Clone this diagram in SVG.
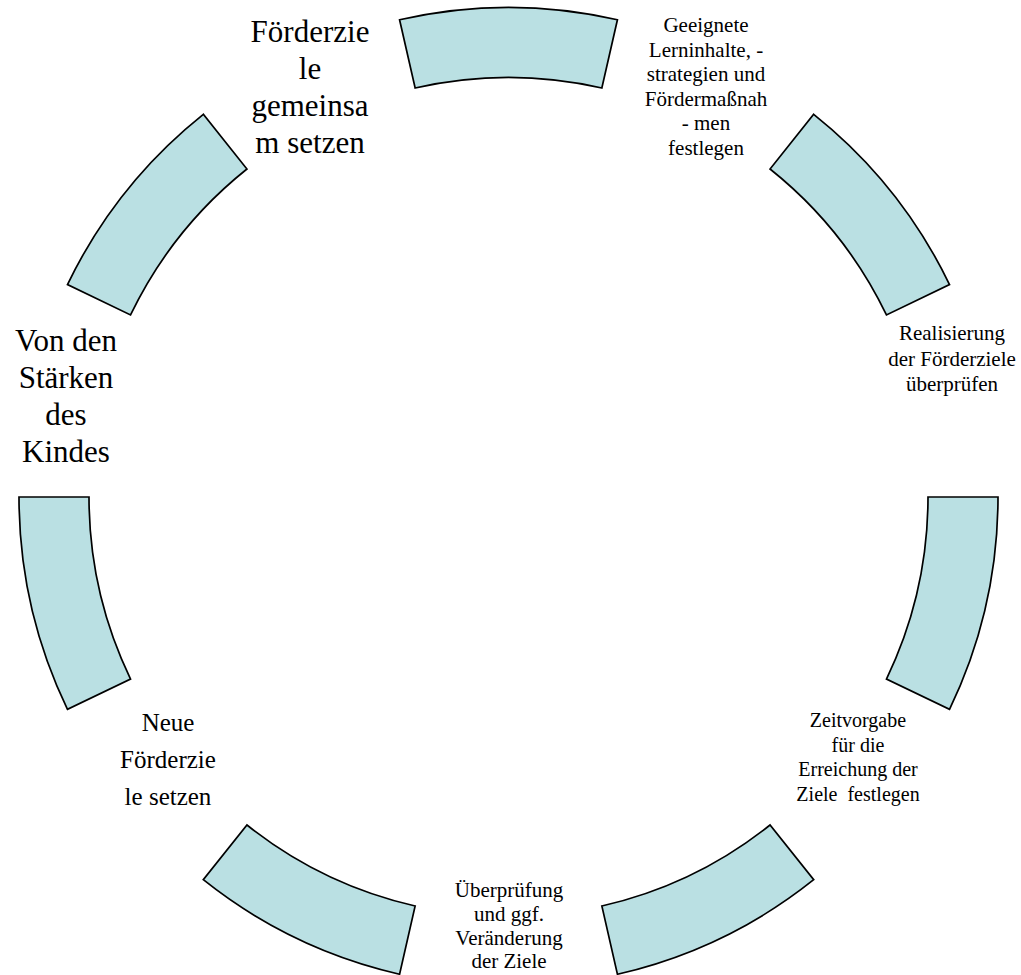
<svg xmlns="http://www.w3.org/2000/svg" width="1021" height="975" viewBox="0 0 1021 975">
  <style>
    .seg { fill: #BAE0E3; stroke: #000000; stroke-width: 1.7; stroke-linejoin: miter; }
    text { font-family: 'Liberation Serif', 'DejaVu Serif', 'Times New Roman', serif; fill: #000000; text-anchor: middle; }
    .big { font-size: 31px; }
    .mid { font-size: 25px; }
    .sm { font-size: 21px; }
    .xs { font-size: 20px; }
  </style>
  <rect x="0" y="0" width="1021" height="975" fill="#FFFFFF"/>
  <g id="connectors">
    <path class="seg" d="M 998,497 A 489.5 489.5 0 0 1 949.52,709.39 L 886.46,679.01 A 419.5 419.5 0 0 0 928,497 Z"/>
    <path class="seg" d="M 813.70,114.29 A 489.5 489.5 0 0 1 949.52,284.61 L 886.46,314.99 A 419.5 419.5 0 0 0 770.05,169.02 Z"/>
    <path class="seg" d="M 399.58,19.77 A 489.5 489.5 0 0 1 617.42,19.77 L 601.85,88.02 A 419.5 419.5 0 0 0 415.15,88.02 Z"/>
    <path class="seg" d="M 67.48,284.61 A 489.5 489.5 0 0 1 203.30,114.29 L 246.95,169.02 A 419.5 419.5 0 0 0 130.54,314.99 Z"/>
    <path class="seg" d="M 67.48,709.39 A 489.5 489.5 0 0 1 19,497 L 89,497 A 419.5 419.5 0 0 0 130.54,679.01 Z"/>
    <path class="seg" d="M 399.58,974.23 A 489.5 489.5 0 0 1 203.30,879.71 L 246.95,824.98 A 419.5 419.5 0 0 0 415.15,905.98 Z"/>
    <path class="seg" d="M 813.70,879.71 A 489.5 489.5 0 0 1 617.42,974.23 L 601.85,905.98 A 419.5 419.5 0 0 0 770.05,824.98 Z"/>
  </g>
  <g id="node-foerderziele-gemeinsam">
    <text class="big" x="310" y="42">Förderzie</text>
    <text class="big" x="310" y="79">le</text>
    <text class="big" x="310" y="116">gemeinsa</text>
    <text class="big" x="310" y="153">m setzen</text>
  </g>
  <g id="node-lerninhalte">
    <text class="sm" x="706" y="32">Geeignete</text>
    <text class="sm" x="706" y="56.5">Lerninhalte, -</text>
    <text class="sm" x="706" y="81">strategien und</text>
    <text class="sm" x="706" y="105.5">Fördermaßnah</text>
    <text class="sm" x="706" y="130">- men</text>
    <text class="sm" x="706" y="154.5">festlegen</text>
  </g>
  <g id="node-realisierung">
    <text class="sm" x="952" y="340">Realisierung</text>
    <text class="sm" x="952" y="365.5">der Förderziele</text>
    <text class="sm" x="952" y="391">überprüfen</text>
  </g>
  <g id="node-zeitvorgabe">
    <text class="xs" x="858" y="727">Zeitvorgabe</text>
    <text class="xs" x="858" y="751.5">für die</text>
    <text class="xs" x="858" y="776">Erreichung der</text>
    <text class="xs" x="858" y="800.5" xml:space="preserve">Ziele  festlegen</text>
  </g>
  <g id="node-ueberpruefung">
    <text class="sm" x="509" y="897">Überprüfung</text>
    <text class="sm" x="509" y="921">und ggf.</text>
    <text class="sm" x="509" y="944.5">Veränderung</text>
    <text class="sm" x="509" y="968">der Ziele</text>
  </g>
  <g id="node-neue-foerderziele">
    <text class="mid" x="168" y="731">Neue</text>
    <text class="mid" x="168" y="768">Förderzie</text>
    <text class="mid" x="168" y="805">le setzen</text>
  </g>
  <g id="node-staerken">
    <text class="big" x="66" y="351">Von den</text>
    <text class="big" x="66" y="388">Stärken</text>
    <text class="big" x="66" y="425">des</text>
    <text class="big" x="66" y="462">Kindes</text>
  </g>
</svg>
